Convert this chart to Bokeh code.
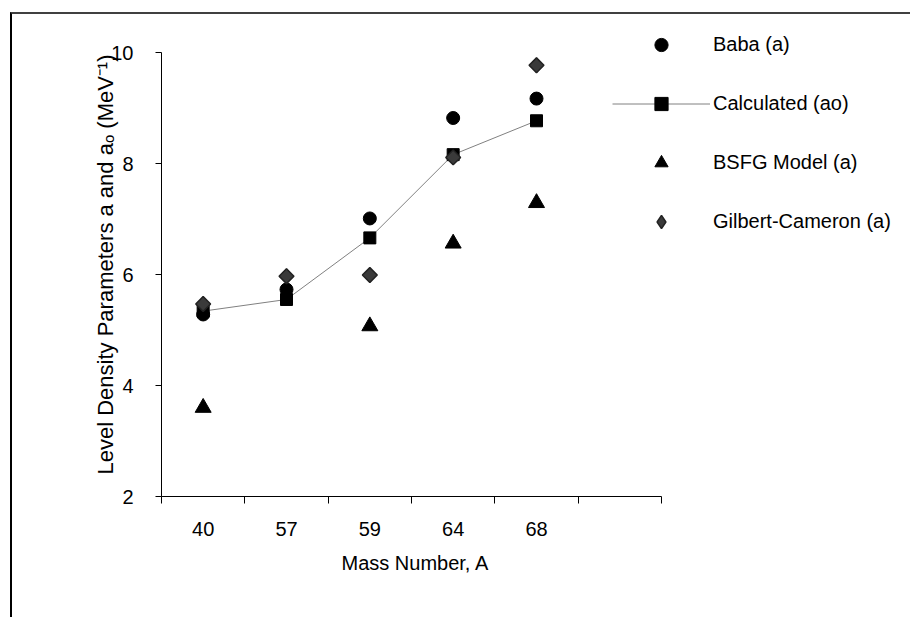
import math
from bokeh.plotting import figure
from bokeh.models import Range1d, FixedTicker, Legend, LegendItem, Title
from bokeh.embed import file_html
from bokeh.resources import INLINE

# ---- data ----
categories = ["40", "57", "59", "64", "68"]
baba = [5.28, 5.73, 7.01, 8.82, 9.17]
calculated = [5.34, 5.55, 6.66, 8.16, 8.77]
bsfg = [3.60, float("nan"), 5.07, 6.56, 7.29]
gilbert = [5.47, 5.97, 5.99, 8.11, 9.77]
y_ticks = [2, 4, 6, 8, 10]
n_slots = len(categories) + 1
x_title = "Mass Number, A"
y_title = "Level Density Parameters a and a\u2092 (MeV\u207b\u00b9)"

FONT = "Liberation Sans"
FS = "20px"

xs = [i + 0.5 for i in range(len(categories))]

p = figure(
    width=900, height=605,
    output_backend="svg", toolbar_location=None,
    x_range=Range1d(0, 9.012), y_range=Range1d(2, 10.685),
    min_border_left=149, min_border_right=0,
    min_border_top=0, min_border_bottom=123,
    background_fill_color="white", border_fill_color="white",
    styles={"margin-left": "10px", "margin-top": "12px",
            "border-top": "2px solid #404040", "border-left": "2px solid #000000"},
)
p.outline_line_color = None
p.xgrid.visible = False
p.ygrid.visible = False

# x axis
xa = p.xaxis[0]
xa.bounds = (0, n_slots)
xa.ticker = FixedTicker(ticks=xs, minor_ticks=list(range(n_slots + 1)))
xa.major_label_overrides = {x: c for x, c in zip(xs, categories)}
xa.major_tick_out = 0
xa.major_tick_in = 0
xa.minor_tick_out = 7
xa.minor_tick_in = 0
xa.minor_tick_line_color = "black"
xa.major_label_standoff = 18

# y axis
ya = p.yaxis[0]
ya.bounds = (2, 10)
ya.ticker = FixedTicker(ticks=y_ticks, minor_ticks=[])
ya.major_tick_out = 6
ya.major_tick_in = 0
ya.major_label_standoff = 22

for ax in (xa, ya):
    ax.major_label_text_font = FONT
    ax.major_label_text_font_size = FS
    ax.major_label_text_color = "black"
    ax.axis_line_color = "black"
    ax.major_tick_line_color = "black" if ax is ya else None

p.add_layout(Title(text=x_title, align="left", offset=180, standoff=22,
                   text_font=FONT, text_font_size=FS, text_font_style="normal",
                   text_color="black"), "below")
p.add_layout(Title(text=y_title, align="left", offset=22, standoff=-19,
                   text_font=FONT, text_font_size="22px", text_font_style="normal",
                   text_color="black"), "left")

r_baba = p.scatter(xs, baba, marker="circle", size=13, fill_color="black", line_color="black")
r_line = p.line(xs, calculated, line_color="#808080", line_width=1)
r_calc = p.scatter(xs, calculated, marker="square", size=12, fill_color="black", line_color="black")
r_bsfg = p.scatter(xs, bsfg, marker="triangle", size=16, fill_color="black", line_color="black")
# narrow diamond underneath (used for the legend glyph, since legend markers are drawn unrotated)
r_gc_leg = p.scatter(xs, gilbert, marker="diamond", size=14,
                     fill_color="#3a3a3a", line_color="#222222", line_width=1.5)
r_gc = p.scatter(xs, gilbert, marker="square", angle=math.pi / 4, size=10.5,
                 fill_color="#3a3a3a", line_color="#222222", line_width=1.5)

legend = Legend(
    items=[
        LegendItem(label="Baba (a)", renderers=[r_baba]),
        LegendItem(label="Calculated (ao)", renderers=[r_line, r_calc]),
        LegendItem(label="BSFG Model (a)", renderers=[r_bsfg]),
        LegendItem(label="Gilbert-Cameron (a)", renderers=[r_gc_leg]),
    ],
    location=(451, 258),
    glyph_width=98, glyph_height=33, label_height=33,
    spacing=26, padding=0, margin=0, label_standoff=3,
    border_line_color=None, background_fill_alpha=0,
    label_text_font=FONT, label_text_font_size=FS, label_text_color="black",
)
p.add_layout(legend, "center")

open("out.html", "w").write(file_html(p, INLINE))
